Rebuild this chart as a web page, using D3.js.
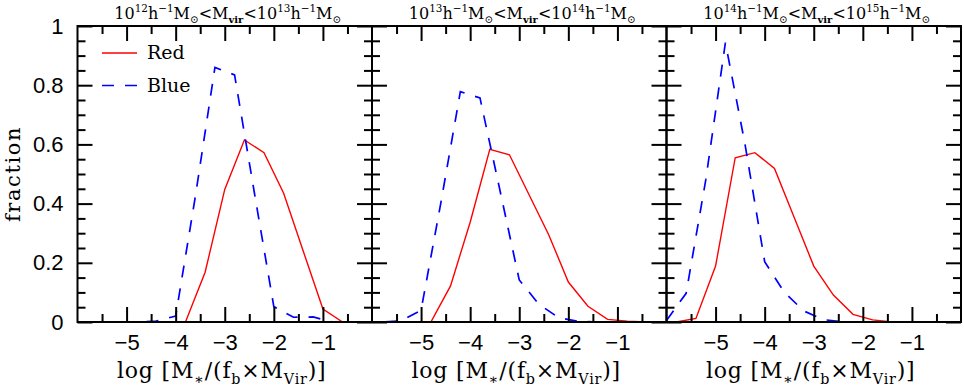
<!DOCTYPE html>
<html>
<head>
<meta charset="utf-8">
<script src="https://cdn.jsdelivr.net/npm/d3@7"></script>
<style>
  body { margin: 0; background: #fff; }
  svg { display: block; }
  .tick text { font-family: "Liberation Sans", Arial, sans-serif; font-size: 22px; fill: #000; }
  .serif { font-family: "DejaVu Serif", serif; fill: #000; }
</style>
</head>
<body>
<svg id="chart" width="964" height="388"></svg>
<script>
// x ticks (log stellar mass fraction) and y ticks (fraction)
var xMajor = [-6, -5, -4, -3, -2, -1, 0];
var xMinor = [-5.5, -4.5, -3.5, -2.5, -1.5, -0.5];
var xLabels = [-5, -4, -3, -2, -1];
var yMajor = [0, 0.2, 0.4, 0.6, 0.8, 1];
var yMinor = [0.05, 0.1, 0.15, 0.25, 0.3, 0.35, 0.45, 0.5, 0.55, 0.65, 0.7, 0.75, 0.85, 0.9, 0.95];

// halo mass bins, exponents for the titles
var binLow = ['12', '13', '14'];
var binHigh = ['13', '14', '15'];

// panel 1: 10^12 - 10^13
var red1X = [-4.6, -4.2, -3.8, -3.4, -3.0, -2.6, -2.2, -1.8, -1.4, -1.0, -0.6, -0.2];
var red1Y = [0, 0, 0, 0.168, 0.448, 0.615, 0.572, 0.435, 0.239, 0.044, 0, 0];
var blue1X = [-6.0, -5.6, -5.2, -4.8, -4.4, -4.0, -3.6, -3.2, -2.8, -2.4, -2.0, -1.6, -1.2, -0.8, -0.4];
var blue1Y = [0, 0, 0, 0, 0.003, 0.02, 0.423, 0.86, 0.835, 0.44, 0.052, 0.016, 0.017, 0, 0];

// panel 2: 10^13 - 10^14
var red2X = [-6.2, -5.6, -5.2, -4.8, -4.4, -4.0, -3.6, -3.2, -2.8, -2.4, -2.0, -1.6, -1.2, -0.8, -0.4];
var red2Y = [0, 0, 0, 0, 0.122, 0.337, 0.583, 0.565, 0.43, 0.295, 0.135, 0.053, 0.009, 0.003, 0];
var blue2X = [-6.2, -5.8, -5.4, -5.0, -4.6, -4.2, -3.8, -3.4, -3.0, -2.6, -2.2, -1.8, -1.4];
var blue2Y = [0, 0, 0.004, 0.04, 0.40, 0.778, 0.757, 0.45, 0.142, 0.06, 0.015, 0.002, 0];

// panel 3: 10^14 - 10^15
var red3X = [-6.2, -5.8, -5.4, -5.0, -4.6, -4.2, -3.8, -3.4, -3.0, -2.6, -2.2, -1.8, -1.4];
var red3Y = [0, 0, 0.012, 0.189, 0.555, 0.572, 0.519, 0.354, 0.189, 0.091, 0.026, 0.007, 0];
var blue3X = [-6.0, -5.6, -5.2, -4.8, -4.4, -4.0, -3.6, -3.2, -2.8, -2.4];
var blue3Y = [0.005, 0.097, 0.48, 0.944, 0.60, 0.204, 0.1, 0.037, 0.008, 0];

var panels = [
  {redX: red1X, redY: red1Y, blueX: blue1X, blueY: blue1Y},
  {redX: red2X, redY: red2Y, blueX: blue2X, blueY: blue2Y},
  {redX: red3X, redY: red3Y, blueX: blue3X, blueY: blue3Y}
];

var svg = d3.select('#chart');
var padL = 77.5, padT = 26, pw = 294.5, ph = 296;
var MAJ = 15, MIN = 8;

var y = d3.scaleLinear().domain([0, 1]).range([padT + ph, padT]);

function fmtX(d) { return String(d).replace('-', '\u2212'); }
function fmtY(d) { return d === 0 ? '0' : d === 1 ? '1' : String(d); }

// text with sub/superscripts: parts = [[text, 'n'|'sup'|'sub', size, weight]]
function richText(g, x, yy, parts, size, anchor) {
  var t = g.append('text').attr('class', 'serif').attr('x', x).attr('y', yy)
    .attr('text-anchor', anchor).style('font-size', size + 'px');
  var shift = 0;
  parts.forEach(function (p) {
    var target = p[1] === 'sup' ? -0.42 * size : p[1] === 'sub' ? 0.28 * size : 0;
    var sp = t.append('tspan').text(p[0]).attr('dy', target - shift);
    if (p[1] !== 'n') sp.style('font-size', (p[2] || 0.65 * size) + 'px');
    if (p[3]) sp.style('font-weight', p[3]);
    shift = target;
  });
  return t;
}

function drawTicks(g, scale, vals, axisFn, size, transform) {
  var ax = axisFn(scale).tickValues(vals).tickSizeInner(-size).tickSizeOuter(0).tickFormat('');
  var a = g.append('g').attr('transform', transform).call(ax);
  a.select('.domain').remove();
  a.selectAll('.tick line').attr('stroke', '#000').attr('stroke-width', 2);
  return a;
}

panels.forEach(function (p, i) {
  var x0 = padL + i * pw;
  var x = d3.scaleLinear().domain([-6, 0]).range([x0, x0 + pw]);
  var g = svg.append('g');

  // curves, clipped to the frame
  var clipId = 'clip' + i;
  svg.append('clipPath').attr('id', clipId).append('rect')
    .attr('x', x0).attr('y', padT - 2).attr('width', pw).attr('height', ph + 2);
  var line = d3.line().x(function (d) { return x(d[0]); }).y(function (d) { return y(d[1]); });
  var redPts = d3.zip(p.redX, p.redY);
  var bluePts = d3.zip(p.blueX, p.blueY);
  var curves = g.append('g').attr('clip-path', 'url(#' + clipId + ')');
  curves.append('path').attr('d', line(redPts)).attr('fill', 'none')
    .attr('stroke', '#ff0000').attr('stroke-width', 1.4);
  curves.append('path').attr('d', line(bluePts)).attr('fill', 'none')
    .attr('stroke', '#0000ff').attr('stroke-width', 1.7).attr('stroke-dasharray', '12,11');

  // ticks on all four sides
  var xIn = xMajor.filter(function (d) { return d > -6 && d < 0; });
  drawTicks(g, x, xIn, d3.axisBottom, MAJ, 'translate(0,' + (padT + ph) + ')');
  drawTicks(g, x, xMinor, d3.axisBottom, MIN, 'translate(0,' + (padT + ph) + ')');
  drawTicks(g, x, xIn, d3.axisTop, MAJ, 'translate(0,' + padT + ')');
  drawTicks(g, x, xMinor, d3.axisTop, MIN, 'translate(0,' + padT + ')');
  drawTicks(g, y, yMajor, d3.axisLeft, MAJ, 'translate(' + x0 + ',0)');
  drawTicks(g, y, yMinor, d3.axisLeft, MIN, 'translate(' + x0 + ',0)');
  drawTicks(g, y, yMajor, d3.axisRight, MAJ, 'translate(' + (x0 + pw) + ',0)');
  drawTicks(g, y, yMinor, d3.axisRight, MIN, 'translate(' + (x0 + pw) + ',0)');

  // x tick labels
  var xl = d3.axisBottom(x).tickValues(xLabels).tickSize(0).tickPadding(12).tickFormat(fmtX);
  var xa = g.append('g').attr('transform', 'translate(0,' + (padT + ph) + ')').call(xl);
  xa.select('.domain').remove();

  // frame
  g.append('rect').attr('x', x0).attr('y', padT).attr('width', pw).attr('height', ph)
    .attr('fill', 'none').attr('stroke', '#000').attr('stroke-width', 2);

  // title
  richText(g, x0 + pw / 2 + 3, 19, [
    ['10', 'n'], [binLow[i], 'sup'], ['h', 'n'], ['\u22121', 'sup'], ['M', 'n'], ['\u2299', 'sub'],
    ['<', 'n'], ['M', 'n'], ['vir', 'sub', 10, 'bold'], ['<', 'n'],
    ['10', 'n'], [binHigh[i], 'sup'], ['h', 'n'], ['\u22121', 'sup'], ['M', 'n'], ['\u2299', 'sub']
  ], 16, 'middle');

  // x axis title
  richText(g, x0 + pw / 2 - 3, 378, [
    ['log [M', 'n'], ['\u2217', 'sub'], ['/(f', 'n'], ['b', 'sub'], ['\u00d7M', 'n'], ['Vir', 'sub'], [')]', 'n']
  ], 22, 'middle').style('letter-spacing', '0.8px');
});

// y tick labels on the first panel
var yl = d3.axisLeft(y).tickValues(yMajor).tickSize(0).tickPadding(14).tickFormat(fmtY);
var ya = svg.append('g').attr('transform', 'translate(' + padL + ',0)').call(yl);
ya.select('.domain').remove();

// y axis title
svg.append('text').attr('class', 'serif').attr('transform', 'translate(20,' + (padT + ph / 2) + ') rotate(-90)')
  .attr('text-anchor', 'middle').style('font-size', '21px').style('letter-spacing', '1.6px').text('fraction');

// legend
var legend = [
  {label: 'Red', color: '#ff0000', dash: null, w: 1.4, y: 53},
  {label: 'Blue', color: '#0000ff', dash: '12,11', w: 1.7, y: 85.5}
];
legend.forEach(function (l) {
  svg.append('line').attr('x1', 102).attr('x2', 137).attr('y1', l.y).attr('y2', l.y)
    .attr('stroke', l.color).attr('stroke-width', l.w).attr('stroke-dasharray', l.dash);
  svg.append('text').attr('class', 'serif').attr('x', 147).attr('y', l.y + 6)
    .style('font-size', '19px').text(l.label);
});
</script>
</body>
</html>
